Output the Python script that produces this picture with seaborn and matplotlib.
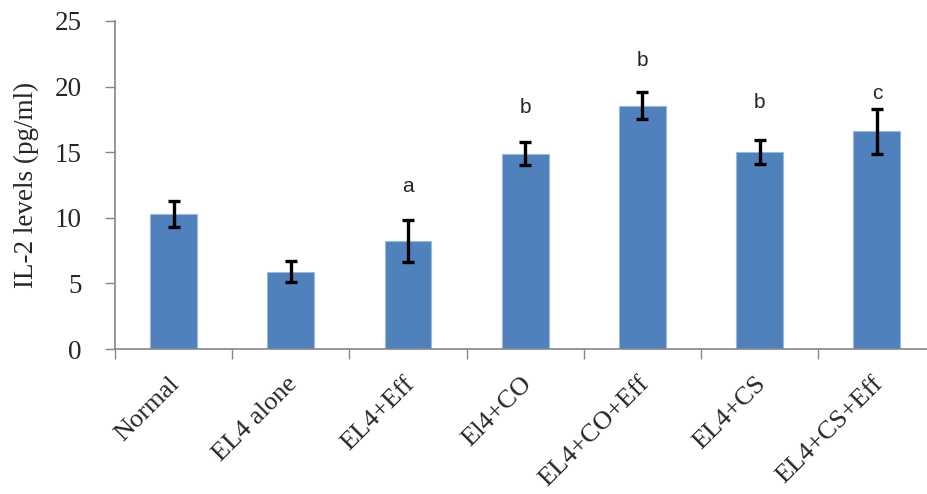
import pandas as pd
import matplotlib.pyplot as plt
import matplotlib.transforms as mtransforms
import seaborn as sns

# values
groups = ["Normal", "EL4 alone", "EL4+Eff", "El4+CO", "EL4+CO+Eff", "EL4+CS", "EL4+CS+Eff"]
il2 = [10.3, 5.9, 8.25, 14.9, 18.55, 15.0, 16.6]
sem = [1.0, 0.8, 1.6, 0.9, 1.05, 0.9, 1.7]
letters = ["", "", "a", "b", "b", "b", "c"]
letter_y = [0, 0, 12.4, 18.4, 22.0, 18.75, 19.5]

df = pd.DataFrame({"group": groups, "il2": il2, "sem": sem})

sns.set_style("white")
plt.rcParams["font.family"] = ["Liberation Serif", "DejaVu Serif"]

fig = plt.figure(figsize=(9.28, 4.94), dpi=100)
ax = fig.add_axes([0.124, 0.2935, 0.884, 0.664])

sns.barplot(data=df, x="group", y="il2", color="#4F81BD", width=0.4,
            saturation=1, errorbar=None, edgecolor="#9DB9DD", linewidth=0.8, ax=ax)
ax.errorbar(range(len(groups)), df["il2"], yerr=df["sem"], fmt="none",
            ecolor="black", elinewidth=2.4, capsize=4.5, capthick=2.4)

for i, (lab, yy) in enumerate(zip(letters, letter_y)):
    if lab:
        ax.text(i, yy, lab, ha="center", va="center", fontsize=15,
                family=["Liberation Sans", "DejaVu Sans"])

ax.set_ylim(0, 25)
ax.set_xlim(-0.5, len(groups) - 0.5)
ax.set_yticks([0, 5, 10, 15, 20, 25])
ax.tick_params(axis="y", left=True, labelsize=19.5, length=7, width=1,
               color="#868686", direction="out", pad=17)

# category labels centred, tick marks at slot boundaries
ax.set_xticks(range(len(groups)))
ax.set_xticklabels(groups, rotation=45, ha="right", va="top", rotation_mode="anchor", fontsize=19)
ax.tick_params(axis="x", which="major", length=0, pad=17)
shift = mtransforms.ScaledTranslation(-5 / 100, 0, fig.dpi_scale_trans)
for lbl in ax.get_xticklabels():
    lbl.set_transform(lbl.get_transform() + shift)
ax.set_xticks([i - 0.5 for i in range(len(groups) + 1)], minor=True)
ax.tick_params(axis="x", which="minor", bottom=True, length=7, width=1,
               color="#868686", direction="out")
ax.set_xlabel("")
ax.set_ylabel("IL-2 levels (pg/ml)", fontsize=19.5, labelpad=11)

for side in ["top", "right"]:
    ax.spines[side].set_visible(False)
for side in ["left", "bottom"]:
    ax.spines[side].set_color("#868686")
    ax.spines[side].set_linewidth(1.2)

fig.savefig("out.png", dpi=100)
